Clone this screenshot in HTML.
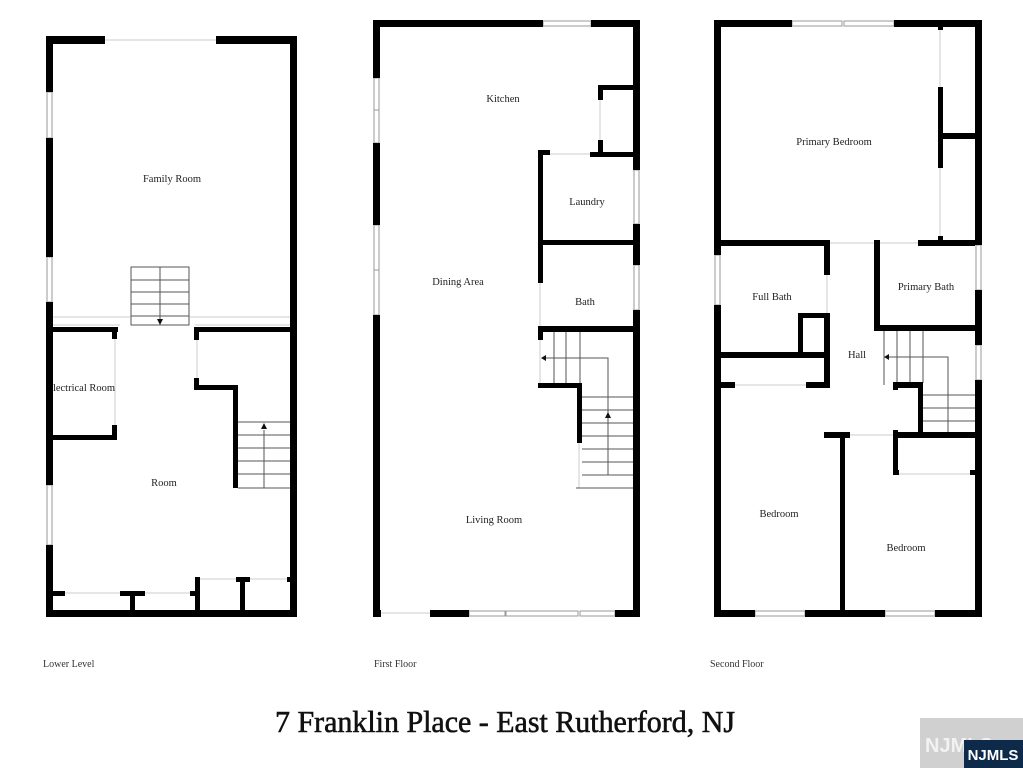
<!DOCTYPE html>
<html><head><meta charset="utf-8"><style>
html,body{margin:0;padding:0;background:#fff;}
svg{display:block;}
text{font-family:"Liberation Serif",serif;}
</style></head><body>
<svg width="1023" height="768" viewBox="0 0 1023 768" xmlns="http://www.w3.org/2000/svg">
<rect width="1023" height="768" fill="#fff"/>
<g fill="#fff" stroke="#999" stroke-width="1">
<rect x="47" y="92" width="5" height="46"/><rect x="47" y="257" width="5" height="45"/><rect x="47" y="485" width="5" height="60"/>
<rect x="374" y="78" width="5" height="32"/><rect x="374" y="110" width="5" height="33"/><rect x="374" y="225" width="5" height="45"/><rect x="374" y="270" width="5" height="45"/>
<rect x="543" y="21" width="48" height="5"/>
<rect x="634" y="170" width="5" height="54"/><rect x="634" y="265" width="5" height="45"/>
<rect x="469" y="611" width="36" height="5"/><rect x="506" y="611" width="72" height="5"/><rect x="580" y="611" width="35" height="5"/>
<rect x="792" y="21" width="50" height="5"/><rect x="844" y="21" width="50" height="5"/>
<rect x="715" y="255" width="5" height="50"/>
<rect x="976" y="245" width="5" height="45"/><rect x="976" y="345" width="5" height="35"/>
<rect x="755" y="611" width="50" height="5"/><rect x="885" y="611" width="50" height="5"/>
</g>
<g fill="none" stroke="#ccc" stroke-width="1">
<line x1="105" y1="40" x2="216" y2="40"/>
<line x1="53" y1="317" x2="130" y2="317"/><line x1="53" y1="325" x2="120" y2="325"/>
<line x1="190" y1="317" x2="290" y2="317"/><line x1="195" y1="325" x2="290" y2="325"/>
<line x1="115" y1="338" x2="115" y2="425"/><line x1="197" y1="340" x2="197" y2="378"/>
<line x1="65" y1="593" x2="120" y2="593"/><line x1="145" y1="593" x2="190" y2="593"/>
<line x1="200" y1="579" x2="236" y2="579"/><line x1="250" y1="579" x2="288" y2="579"/>
<line x1="381" y1="613" x2="430" y2="613"/>
<line x1="600" y1="100" x2="600" y2="140"/><line x1="550" y1="154" x2="590" y2="154"/>
<line x1="540" y1="283" x2="540" y2="326"/><line x1="540" y1="340" x2="540" y2="383"/>
<line x1="579" y1="443" x2="579" y2="488"/>
<line x1="940" y1="27" x2="940" y2="87"/><line x1="940" y1="168" x2="940" y2="240"/>
<line x1="830" y1="243" x2="874" y2="243"/><line x1="880" y1="243" x2="918" y2="243"/>
<line x1="827" y1="275" x2="827" y2="313"/><line x1="735" y1="385" x2="806" y2="385"/>
<line x1="850" y1="435" x2="893" y2="435"/><line x1="898" y1="474" x2="972" y2="474"/>
</g>
<g fill="none" stroke="#555" stroke-width="1">
<rect x="131" y="267" width="58" height="58"/>
<line x1="131" y1="280" x2="189" y2="280"/><line x1="131" y1="292" x2="189" y2="292"/><line x1="131" y1="304" x2="189" y2="304"/><line x1="131" y1="316" x2="189" y2="316"/>
<line x1="160" y1="267" x2="160" y2="322"/>
<line x1="238" y1="422" x2="290" y2="422"/><line x1="238" y1="435" x2="290" y2="435"/><line x1="238" y1="448" x2="290" y2="448"/><line x1="238" y1="461" x2="290" y2="461"/><line x1="238" y1="474" x2="290" y2="474"/><line x1="238" y1="488" x2="290" y2="488"/>
<line x1="264" y1="430" x2="264" y2="488"/>
<line x1="554" y1="332" x2="554" y2="383"/><line x1="566" y1="332" x2="566" y2="383"/><line x1="580" y1="332" x2="580" y2="383"/>
<polyline points="546,358 608,358 608,475"/>
<line x1="582" y1="397" x2="633" y2="397"/><line x1="582" y1="410" x2="633" y2="410"/><line x1="582" y1="423" x2="633" y2="423"/><line x1="582" y1="436" x2="633" y2="436"/><line x1="582" y1="449" x2="633" y2="449"/><line x1="582" y1="462" x2="633" y2="462"/><line x1="582" y1="475" x2="633" y2="475"/><line x1="576" y1="488" x2="633" y2="488"/>
<line x1="897" y1="331" x2="897" y2="383"/><line x1="910" y1="331" x2="910" y2="383"/><line x1="923" y1="331" x2="923" y2="383"/>
<polyline points="889,357 948,357 948,437"/>
<line x1="923" y1="395" x2="975" y2="395"/><line x1="923" y1="408" x2="975" y2="408"/><line x1="923" y1="421" x2="975" y2="421"/>
<line x1="884" y1="331" x2="884" y2="385"/>
</g>
<g fill="#111">
<polygon points="157,319 163,319 160,325"/><polygon points="261,429 267,429 264,423"/>
<polygon points="546,355 546,361 541,358"/><polygon points="605,418 611,418 608,412"/>
<polygon points="889,354 889,360 884,357"/>
</g>
<g fill="#000">
<rect x="46" y="36" width="59" height="8"/><rect x="216" y="36" width="81" height="8"/>
<rect x="46" y="36" width="7" height="56"/><rect x="46" y="138" width="7" height="119"/><rect x="46" y="302" width="7" height="183"/><rect x="46" y="545" width="7" height="72"/>
<rect x="290" y="36" width="7" height="581"/><rect x="46" y="610" width="251" height="7"/>
<rect x="53" y="327" width="65" height="5"/><rect x="112" y="327" width="5" height="12"/>
<rect x="195" y="327" width="95" height="5"/><rect x="194" y="327" width="5" height="13"/>
<rect x="53" y="435" width="63" height="5"/><rect x="112" y="425" width="5" height="15"/>
<rect x="194" y="378" width="5" height="12"/><rect x="194" y="385" width="44" height="5"/><rect x="233" y="385" width="5" height="103"/>
<rect x="53" y="591" width="12" height="5"/><rect x="120" y="591" width="25" height="5"/><rect x="130" y="591" width="5" height="20"/>
<rect x="190" y="591" width="10" height="5"/><rect x="195" y="577" width="5" height="34"/>
<rect x="236" y="577" width="14" height="5"/><rect x="240" y="577" width="5" height="34"/><rect x="287" y="577" width="3" height="5"/>
<rect x="373" y="20" width="170" height="7"/><rect x="591" y="20" width="49" height="7"/>
<rect x="373" y="20" width="7" height="58"/><rect x="373" y="143" width="7" height="82"/><rect x="373" y="315" width="7" height="302"/>
<rect x="633" y="20" width="7" height="150"/><rect x="633" y="224" width="7" height="41"/><rect x="633" y="310" width="7" height="307"/>
<rect x="373" y="610" width="8" height="7"/><rect x="430" y="610" width="39" height="7"/><rect x="615" y="610" width="25" height="7"/>
<rect x="598" y="85" width="35" height="5"/><rect x="598" y="85" width="5" height="15"/><rect x="598" y="140" width="5" height="15"/>
<rect x="590" y="152" width="43" height="5"/><rect x="538" y="150" width="12" height="5"/>
<rect x="538" y="150" width="5" height="133"/><rect x="538" y="240" width="95" height="5"/>
<rect x="538" y="326" width="95" height="6"/><rect x="538" y="326" width="5" height="14"/>
<rect x="538" y="383" width="44" height="5"/><rect x="577" y="383" width="5" height="60"/>
<rect x="714" y="20" width="78" height="7"/><rect x="894" y="20" width="88" height="7"/>
<rect x="714" y="20" width="7" height="235"/><rect x="714" y="305" width="7" height="312"/>
<rect x="975" y="20" width="7" height="225"/><rect x="975" y="290" width="7" height="55"/><rect x="975" y="380" width="7" height="237"/>
<rect x="714" y="610" width="41" height="7"/><rect x="805" y="610" width="80" height="7"/><rect x="935" y="610" width="47" height="7"/>
<rect x="938" y="27" width="5" height="3"/><rect x="938" y="87" width="5" height="81"/><rect x="943" y="133" width="32" height="6"/>
<rect x="721" y="240" width="109" height="6"/><rect x="874" y="240" width="6" height="6"/><rect x="918" y="240" width="57" height="6"/><rect x="938" y="236" width="5" height="6"/>
<rect x="824" y="240" width="6" height="35"/><rect x="824" y="313" width="6" height="75"/>
<rect x="798" y="313" width="32" height="5"/><rect x="798" y="313" width="5" height="42"/>
<rect x="721" y="352" width="109" height="6"/>
<rect x="721" y="382" width="14" height="6"/><rect x="806" y="382" width="24" height="6"/>
<rect x="874" y="240" width="6" height="91"/><rect x="874" y="325" width="101" height="6"/>
<rect x="893" y="382" width="30" height="6"/><rect x="893" y="382" width="5" height="8"/><rect x="918" y="382" width="5" height="55"/>
<rect x="893" y="432" width="82" height="6"/><rect x="893" y="430" width="5" height="45"/><rect x="893" y="470" width="6" height="5"/><rect x="970" y="470" width="5" height="5"/>
<rect x="824" y="432" width="26" height="6"/><rect x="840" y="432" width="5" height="178"/>
</g>
<g font-size="10.5" text-anchor="middle" fill="#222">
<text x="172" y="182">Family Room</text>
<text x="84" y="391">lectrical Room</text>
<text x="164" y="486">Room</text>
<text x="503" y="102">Kitchen</text>
<text x="587" y="205">Laundry</text>
<text x="458" y="285">Dining Area</text>
<text x="585" y="305">Bath</text>
<text x="494" y="523">Living Room</text>
<text x="834" y="145">Primary Bedroom</text>
<text x="772" y="300">Full Bath</text>
<text x="926" y="290">Primary Bath</text>
<text x="857" y="358">Hall</text>
<text x="779" y="517">Bedroom</text>
<text x="906" y="551">Bedroom</text>
</g>
<g font-size="10" fill="#333">
<text x="43" y="667">Lower Level</text>
<text x="374" y="667">First Floor</text>
<text x="710" y="667">Second Floor</text>
</g>
<text x="275" y="732" font-size="31" textLength="460" lengthAdjust="spacingAndGlyphs" fill="#111" stroke="#111" stroke-width="0.6">7 Franklin Place - East Rutherford, NJ</text>
<rect x="920" y="718" width="103" height="50" fill="#d0d0d0"/>
<text x="925" y="752" font-size="20" font-weight="bold" fill="#f2f2f2" style="font-family:'Liberation Sans',sans-serif">NJMLS</text>
<rect x="964" y="740" width="59" height="28" fill="#0d2a4a"/>
<text x="993" y="760" font-size="15" font-weight="bold" text-anchor="middle" fill="#fff" style="font-family:'Liberation Sans',sans-serif">NJMLS</text>
</svg>
</body></html>
